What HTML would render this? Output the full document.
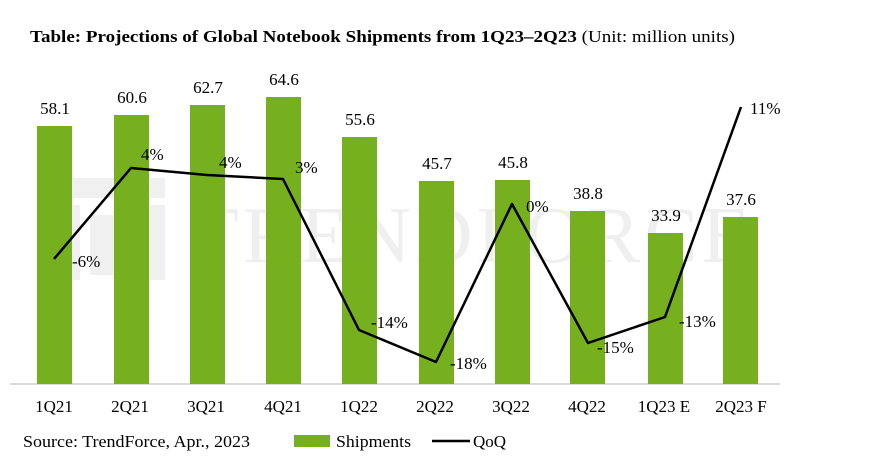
<!DOCTYPE html><html><head><style>body{margin:0;background:#fff}svg{display:block}text{font-family:"Liberation Serif",serif}</style></head><body>
<svg width="886" height="457" viewBox="0 0 886 457">
<text x="30" y="42" font-size="17" font-weight="bold" fill="#000" textLength="705" lengthAdjust="spacingAndGlyphs">Table: Projections of Global Notebook Shipments from 1Q23–2Q23 <tspan font-weight="normal">(Unit: million units)</tspan></text>
<g opacity="0.1" fill="#777"><rect x="60" y="178" width="105" height="20"/><rect x="60" y="205" width="20" height="75"/><rect x="145" y="205" width="20" height="75"/><rect x="90" y="215" width="45" height="60"/></g>
<text x="190" y="262" font-size="80" fill="#000" opacity="0.06" letter-spacing="4">TRENDFORCE</text>
<line x1="10" y1="384" x2="780" y2="384" stroke="#d9d9d9" stroke-width="2"/>
<g fill="#76b01e">
<rect x="37" y="126" width="35" height="258"/><rect x="114" y="115" width="35" height="269"/><rect x="190" y="105" width="35" height="279"/><rect x="266" y="97" width="35" height="287"/><rect x="342" y="137" width="35" height="247"/><rect x="419" y="181" width="35" height="203"/><rect x="495" y="180" width="35" height="204"/><rect x="570" y="211" width="35" height="173"/><rect x="648" y="233" width="35" height="151"/><rect x="723" y="217" width="35" height="167"/>
</g>
<g font-size="17" text-anchor="middle" fill="#000">
<text x="55" y="114">58.1</text><text x="132" y="103">60.6</text><text x="208" y="93">62.7</text><text x="284" y="85">64.6</text><text x="360" y="125">55.6</text><text x="437" y="169">45.7</text><text x="513" y="168">45.8</text><text x="588" y="199">38.8</text><text x="666" y="221">33.9</text><text x="741" y="205">37.6</text>
</g>
<polyline points="54,259 131,168 207,175 283,179 359,330 436,362 512,204 588,343 665,317 741,107" fill="none" stroke="#000" stroke-width="2.5" stroke-linejoin="round"/>
<g font-size="17" fill="#000">
<text x="72" y="267">-6%</text><text x="141" y="160">4%</text><text x="219" y="168">4%</text><text x="295" y="173">3%</text><text x="371" y="328">-14%</text><text x="450" y="369">-18%</text><text x="526" y="212">0%</text><text x="597" y="353">-15%</text><text x="679" y="327">-13%</text><text x="750" y="114">11%</text>
</g>
<g font-size="17" text-anchor="middle" fill="#000">
<text x="54" y="412">1Q21</text><text x="130" y="412">2Q21</text><text x="206" y="412">3Q21</text><text x="283" y="412">4Q21</text><text x="359" y="412">1Q22</text><text x="435" y="412">2Q22</text><text x="511" y="412">3Q22</text><text x="587" y="412">4Q22</text><text x="664" y="412">1Q23 E</text><text x="741" y="412">2Q23 F</text>
</g>
<text x="23" y="447" font-size="17" fill="#000" textLength="227" lengthAdjust="spacingAndGlyphs">Source: TrendForce, Apr., 2023</text>
<rect x="294" y="435" width="36" height="12" fill="#76b01e"/>
<text x="336" y="447" font-size="17" fill="#000" textLength="75" lengthAdjust="spacingAndGlyphs">Shipments</text>
<line x1="432" y1="441" x2="470" y2="441" stroke="#000" stroke-width="2.5"/>
<text x="473" y="447" font-size="17" fill="#000">QoQ</text>
</svg></body></html>
